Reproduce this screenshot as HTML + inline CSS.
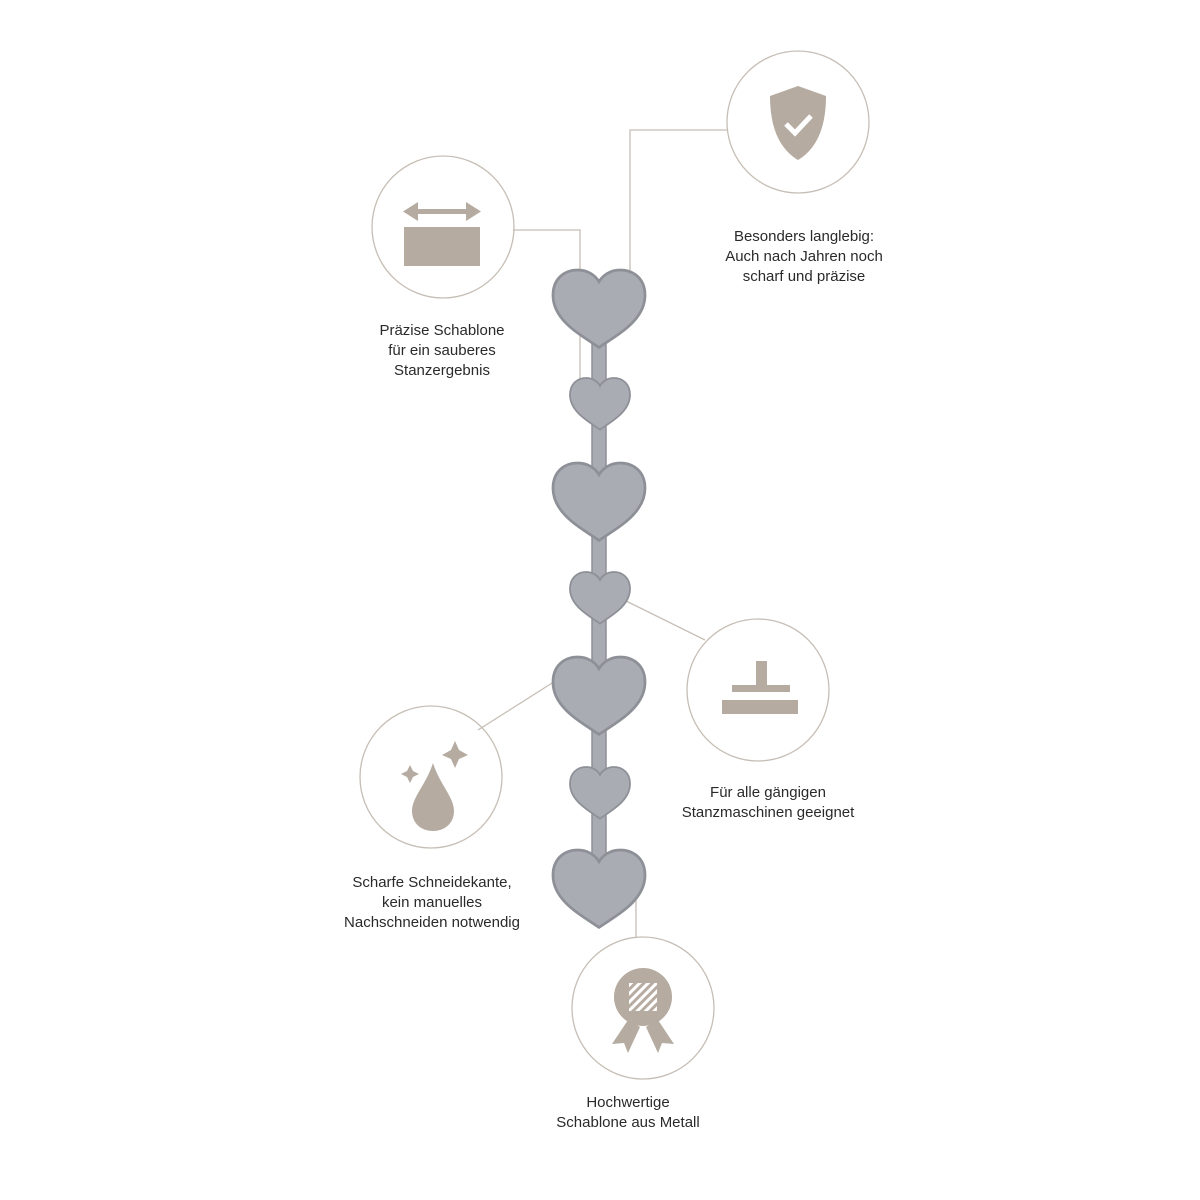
<!DOCTYPE html>
<html><head><meta charset="utf-8"><style>
html,body{margin:0;padding:0;background:#fff;width:1200px;height:1200px;overflow:hidden}
svg text{font-family:"Liberation Sans",sans-serif;font-size:15px;fill:#2a2a2a;text-anchor:middle}
</style></head><body>
<svg width="1200" height="1200" viewBox="0 0 1200 1200" xmlns="http://www.w3.org/2000/svg">
<defs>
<path id="h" d="M50 86 C30 72 0 56 0 28 C0 10 12 0 27 0 C38 0 46 6 50 13 C54 6 62 0 73 0 C88 0 100 10 100 28 C100 56 70 72 50 86Z"/>
<pattern id="st" width="6" height="6" patternUnits="userSpaceOnUse" patternTransform="rotate(45)"><rect width="3" height="6" fill="#fff"/></pattern>
</defs>
<g stroke="#c6beb5" stroke-width="1.3" fill="none">
<polyline points="630,285 630,130 727,130"/>
<polyline points="513,230 580,230 580,395"/>
<line x1="620" y1="598" x2="705" y2="640"/>
<line x1="560" y1="678" x2="478" y2="730"/>
<line x1="636" y1="880" x2="636" y2="937"/>
<circle cx="798" cy="122" r="71"/>
<circle cx="443" cy="227" r="71"/>
<circle cx="758" cy="690" r="71"/>
<circle cx="431" cy="777" r="71"/>
<circle cx="643" cy="1008" r="71"/>
</g>
<rect x="592" y="330" width="14" height="540" rx="3" fill="#a9abb3" stroke="#8e9098" stroke-width="1.5"/>
<g fill="#aaacb4" stroke="#8e9098" stroke-width="3">
<use href="#h" transform="translate(553,270) scale(0.92,0.9)"/>
<use href="#h" transform="translate(570,378) scale(0.6,0.6)"/>
<use href="#h" transform="translate(553,463) scale(0.92,0.9)"/>
<use href="#h" transform="translate(570,572) scale(0.6,0.6)"/>
<use href="#h" transform="translate(553,657) scale(0.92,0.9)"/>
<use href="#h" transform="translate(570,767) scale(0.6,0.6)"/>
<use href="#h" transform="translate(553,850) scale(0.92,0.9)"/>
</g>
<g fill="#b5aba1">
<path d="M798 86 L826 96 C826 130 815 150 798 160 C781 150 770 130 770 96 Z"/>
<polyline points="786,124 795,133 811,116" fill="none" stroke="#fff" stroke-width="5"/>
<rect x="404" y="227" width="76" height="39"/>
<rect x="414" y="209" width="56" height="5"/>
<polygon points="403,211.5 418,202 418,221"/>
<polygon points="481,211.5 466,202 466,221"/>
<rect x="756" y="661" width="11" height="25"/>
<rect x="732" y="685" width="58" height="7"/>
<rect x="722" y="700" width="76" height="14"/>
<path d="M433 763 C426 785 412 797 412 811 C412 823 421 831 433 831 C445 831 454 823 454 811 C454 797 440 785 433 763Z"/>
<path d="M455 741 L459 750 L468 755 L459 759 L455 768 L451 759 L442 755 L451 750Z"/>
<path d="M410 765 L413 771 L419 774 L413 777 L410 783 L407 777 L401 774 L407 771Z"/>
<circle cx="643" cy="997" r="29"/>
<polygon points="628,1020 612,1044 624,1043 628,1053 640,1027"/>
<polygon points="658,1020 674,1044 662,1043 658,1053 646,1027"/>
<rect x="629" y="983" width="28" height="28" fill="url(#st)"/>
</g>
<text x="804" y="241">Besonders langlebig:</text>
<text x="804" y="261">Auch nach Jahren noch</text>
<text x="804" y="281">scharf und präzise</text>
<text x="442" y="335">Präzise Schablone</text>
<text x="442" y="355">für ein sauberes</text>
<text x="442" y="375">Stanzergebnis</text>
<text x="768" y="797">Für alle gängigen</text>
<text x="768" y="817">Stanzmaschinen geeignet</text>
<text x="432" y="887">Scharfe Schneidekante,</text>
<text x="432" y="907">kein manuelles</text>
<text x="432" y="927">Nachschneiden notwendig</text>
<text x="628" y="1107">Hochwertige</text>
<text x="628" y="1127">Schablone aus Metall</text>
</svg>
</body></html>
